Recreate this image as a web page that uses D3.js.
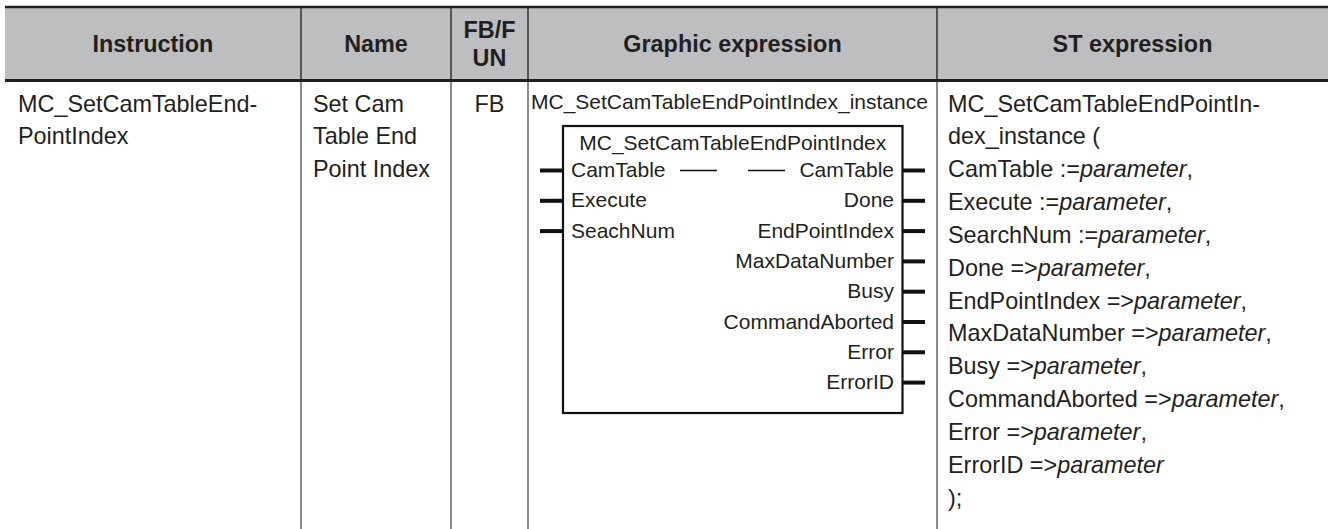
<!DOCTYPE html>
<html><head><meta charset="utf-8">
<script src="https://cdn.jsdelivr.net/npm/d3@7"></script>
<style>
body{margin:0;background:#fff}
svg{display:block}
text{font-family:"Liberation Sans",Arial,Helvetica,sans-serif;fill:#231f20}
</style>
</head><body>
<svg id="c" width="1328" height="529"></svg>
<script>
// ---- data ----
const headers = [["Instruction"], ["Name"], ["FB/F", "UN"], ["Graphic expression"], ["ST expression"]];
const instructionLines = ["MC_SetCamTableEnd-", "PointIndex"];
const nameLines = ["Set Cam", "Table End", "Point Index"];
const fbTypeLines = ["FB"];
const instanceName = "MC_SetCamTableEndPointIndex_instance";
const blockTitle = "MC_SetCamTableEndPointIndex";
const inputPins = ["CamTable", "Execute", "SeachNum"];
const outputPins = ["CamTable", "Done", "EndPointIndex", "MaxDataNumber", "Busy", "CommandAborted", "Error", "ErrorID"];
const stPlain = ["MC_SetCamTableEndPointIn-", "dex_instance (", "CamTable :=", "Execute :=", "SearchNum :=", "Done =>", "EndPointIndex =>", "MaxDataNumber =>", "Busy =>", "CommandAborted =>", "Error =>", "ErrorID =>", ");"];
const stItalic = ["", "", "parameter", "parameter", "parameter", "parameter", "parameter", "parameter", "parameter", "parameter", "parameter", "parameter", ""];
const stTrail = ["", "", ",", ",", ",", ",", ",", ",", ",", ",", ",", "", ""];

// ---- layout ----
const W = 1328, H = 529;
const colEdges = [5, 301, 451, 528, 937, 1328];
const headTop = 7, headBottom = 80;
const fs = 23.4, gfs = 21;
const svg = d3.select("#c");

// text row scale for table body
const rowY = d3.scaleLinear().domain([0, 1]).range([111.5, 144.35]);
// graphic pin row scale
const pinY = d3.scaleLinear().domain([0, 1]).range([170.5, 200.8]);

// header background
svg.append("rect").attr("x", colEdges[0]).attr("y", headTop).attr("width", W - colEdges[0]).attr("height", headBottom - headTop).attr("fill", "#bcbec0");

// header texts
const colCenter = i => (colEdges[i] + colEdges[i + 1]) / 2;
headers.forEach((lines, i) => {
  const n = lines.length;
  lines.forEach((t, j) => {
    const cy = n === 1 ? 43.5 : [30, 58][j];
    svg.append("text").attr("x", colCenter(i)).attr("y", cy + 8.3)
      .attr("text-anchor", "middle").attr("font-weight", "bold").attr("font-size", fs).text(t);
  });
});

// header column dividers
svg.selectAll("line.hd").data(colEdges.slice(1, 5)).enter().append("line")
  .attr("x1", d => d).attr("x2", d => d).attr("y1", headTop).attr("y2", headBottom)
  .attr("stroke", "#3a3a3a").attr("stroke-width", 1.6);
// body column dividers
svg.selectAll("line.bd").data(colEdges.slice(1, 5)).enter().append("line")
  .attr("x1", d => d).attr("x2", d => d).attr("y1", headBottom).attr("y2", H)
  .attr("stroke", "#6d6e71").attr("stroke-width", 1.6);
// top & header rules
svg.append("line").attr("x1", colEdges[0]).attr("x2", W).attr("y1", headTop).attr("y2", headTop).attr("stroke", "#231f20").attr("stroke-width", 2.6);
svg.append("line").attr("x1", colEdges[0]).attr("x2", W).attr("y1", headBottom + 0.5).attr("y2", headBottom + 0.5).attr("stroke", "#231f20").attr("stroke-width", 3);

// body column texts
function colText(lines, x, anchor) {
  svg.selectAll(null).data(lines).enter().append("text")
    .attr("x", x).attr("y", (d, i) => rowY(i)).attr("text-anchor", anchor)
    .attr("font-size", fs).text(d => d);
}
colText(instructionLines, 18, "start");
colText(nameLines, 313, "start");
colText(fbTypeLines, colCenter(2), "middle");

// ST expression
const st = svg.selectAll(null).data(stPlain).enter().append("text")
  .attr("x", 948).attr("y", (d, i) => rowY(i)).attr("font-size", fs);
st.append("tspan").text(d => d);
st.append("tspan").attr("font-style", "italic").text((d, i) => stItalic[i]);
st.append("tspan").text((d, i) => stTrail[i]);

// ---- graphic expression ----
const boxL = 563, boxR = 902.5, boxT = 126, boxB = 413;
svg.append("text").attr("x", 531).attr("y", 109.3).attr("font-size", gfs).text(instanceName);
svg.append("rect").attr("x", boxL).attr("y", boxT).attr("width", boxR - boxL).attr("height", boxB - boxT)
  .attr("fill", "none").attr("stroke", "#111").attr("stroke-width", 2.2);
svg.append("text").attr("x", (boxL + boxR) / 2).attr("y", 150).attr("text-anchor", "middle").attr("font-size", gfs).text(blockTitle);

// input pins
svg.selectAll(null).data(inputPins).enter().append("line")
  .attr("x1", 540).attr("x2", boxL).attr("y1", (d, i) => pinY(i)).attr("y2", (d, i) => pinY(i))
  .attr("stroke", "#111").attr("stroke-width", 4);
svg.selectAll(null).data(inputPins).enter().append("text")
  .attr("x", 571).attr("y", (d, i) => pinY(i) + 6.5).attr("font-size", gfs).text(d => d);
// output pins
svg.selectAll(null).data(outputPins).enter().append("line")
  .attr("x1", boxR).attr("x2", 925).attr("y1", (d, i) => pinY(i)).attr("y2", (d, i) => pinY(i))
  .attr("stroke", "#111").attr("stroke-width", 4);
svg.selectAll(null).data(outputPins).enter().append("text")
  .attr("x", 894).attr("y", (d, i) => pinY(i) + 6.5).attr("text-anchor", "end").attr("font-size", gfs).text(d => d);
// in-out pass-through dashes for CamTable
[[680, 717], [748, 785]].forEach(([a, b]) => {
  svg.append("line").attr("x1", a).attr("x2", b).attr("y1", pinY(0)).attr("y2", pinY(0))
    .attr("stroke", "#111").attr("stroke-width", 1.6);
});
</script>
</body></html>
